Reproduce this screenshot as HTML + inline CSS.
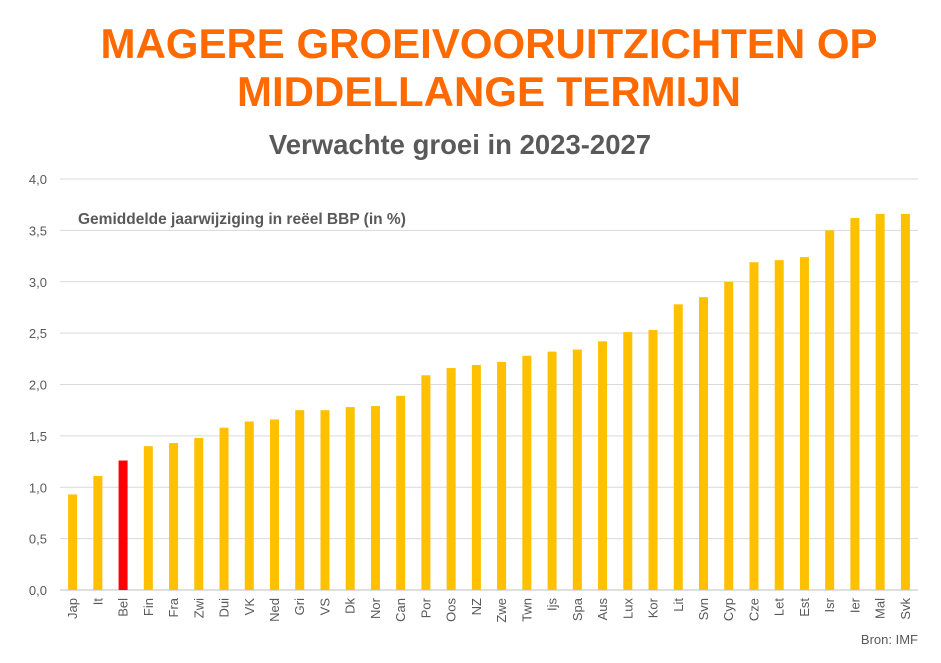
<!DOCTYPE html>
<html><head><meta charset="utf-8"><style>
body{margin:0;background:#fff;width:941px;height:658px;overflow:hidden;font-family:"Liberation Sans",sans-serif}
</style></head><body>
<svg width="941" height="658" xmlns="http://www.w3.org/2000/svg">
<text x="489" y="58" text-anchor="middle" font-size="42" font-weight="bold" fill="#FF6A00">MAGERE GROEIVOORUITZICHTEN OP</text>
<text x="489" y="106" text-anchor="middle" font-size="42" font-weight="bold" fill="#FF6A00">MIDDELLANGE TERMIJN</text>
<text x="460" y="154" text-anchor="middle" font-size="27.5" font-weight="bold" fill="#595959">Verwachte groei in 2023-2027</text>
<text x="78" y="224" font-size="15.5" font-weight="bold" fill="#595959">Gemiddelde jaarwijziging in reëel BBP (in %)</text>
<text x="918" y="644" text-anchor="end" font-size="13" fill="#595959">Bron: IMF</text>
<g id="grid"></g><g id="bars"></g><g id="xl"></g>
</svg>
<script>
const categories=["Jap","It","Bel","Fin","Fra","Zwi","Dui","VK","Ned","Gri","VS","Dk","Nor","Can","Por","Oos","NZ","Zwe","Twn","Ijs","Spa","Aus","Lux","Kor","Lit","Svn","Cyp","Cze","Let","Est","Isr","Ier","Mal","Svk"];
const values=[0.93,1.11,1.26,1.40,1.43,1.48,1.58,1.64,1.66,1.75,1.75,1.78,1.79,1.89,2.09,2.16,2.19,2.22,2.28,2.32,2.34,2.42,2.51,2.53,2.78,2.85,3.00,3.19,3.21,3.24,3.50,3.62,3.66,3.66];
const ticks=[0,0.5,1,1.5,2,2.5,3,3.5,4];
const tickLabels=["0,0","0,5","1,0","1,5","2,0","2,5","3,0","3,5","4,0"];
const highlight="Bel";
const NS="http://www.w3.org/2000/svg";
const y0=590,y1=179,x0=60,x1=918;
const y=v=>y0-(v/4)*(y0-y1);
const step=(x1-x0)/categories.length;
const x=i=>x0+step*(i+0.5);
const g=document.getElementById("grid"),b=document.getElementById("bars"),xl=document.getElementById("xl");
function mk(tag,a,p){const e=document.createElementNS(NS,tag);for(const k in a)e.setAttribute(k,a[k]);p.appendChild(e);return e;}
ticks.forEach((t,i)=>{
 const l=mk("line",{x1:x0,x2:x1,y1:y(t),y2:y(t),stroke:t===0?"#bfbfbf":"#d9d9d9","stroke-width":1},g);
 
 
 const tx=mk("text",{x:47,y:y(t)+5,"text-anchor":"end","font-size":13,fill:"#595959"},g);
 tx.textContent=tickLabels[i];
 
 
});
categories.forEach((c,i)=>{
 const r=mk("rect",{x:x(i)-4.5,y:y(values[i]),width:9,height:y0-y(values[i]),fill:c===highlight?"#FF0000":"#FFC000"},b);
 
 
 const t=mk("text",{x:0,y:0,"text-anchor":"end","font-size":13,fill:"#595959",transform:`translate(${x(i)+4.5},598) rotate(-90)`},xl);
 t.textContent=c;
 
 
});
</script>
</body></html>
